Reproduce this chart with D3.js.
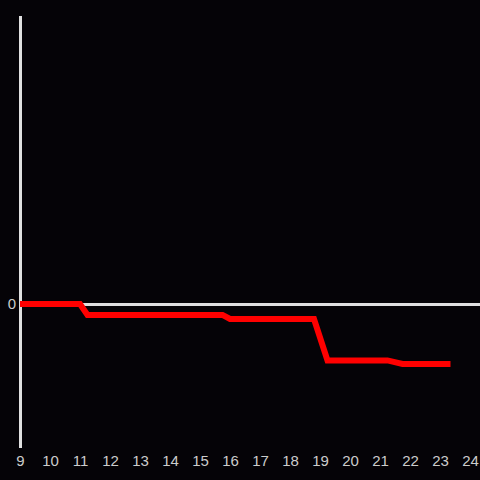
<!DOCTYPE html>
<html><head><meta charset="utf-8">
<script src="https://cdn.jsdelivr.net/npm/d3@7"></script>
<style>html,body{margin:0;padding:0;background:#050307;}svg{display:block;}</style>
</head><body>
<script>
const hours = [9, 11, 11.25, 15.75, 16, 18.8, 19.25, 21.25, 21.75, 23.35];
const values = [0, 0, -3.8, -3.8, -5.2, -5.2, -19.6, -19.6, -20.8, -20.8];
const xTicks = [9,10,11,12,13,14,15,16,17,18,19,20,21,22,23,24];
const yTicks = [0];

const W = 480, H = 480;
const svg = d3.select("body").append("svg").attr("width", W).attr("height", H)
  .style("background", "#050307");
const x = d3.scaleLinear().domain([9, 24]).range([20, 470]);
const y = d3.scaleLinear().domain([-50, 100]).range([448, 16]);

svg.append("line").attr("x1", 20.5).attr("x2", 20.5).attr("y1", 16).attr("y2", 448)
  .attr("stroke", "#e0e0e0").attr("stroke-width", 3);
svg.append("line").attr("x1", 20).attr("x2", 480).attr("y1", y(0) + 0.5).attr("y2", y(0) + 0.5)
  .attr("stroke", "#e0e0e0").attr("stroke-width", 3);

const xAxis = d3.axisBottom(x).tickValues(xTicks).tickSize(0).tickPadding(0).tickFormat(d3.format("d"));
const gx = svg.append("g").attr("transform", "translate(0,461)").call(xAxis);
gx.select(".domain").remove();
gx.selectAll("text").attr("fill", "#cccccc").attr("font-size", 15).attr("y", 0)
  .attr("font-family", "Liberation Sans, Arial, sans-serif").attr("dy", "0.35em");

const yAxis = d3.axisLeft(y).tickValues(yTicks).tickSize(0).tickPadding(4);
const gy = svg.append("g").attr("transform", "translate(20,0)").call(yAxis);
gy.select(".domain").remove();
gy.selectAll("text").attr("fill", "#cccccc").attr("font-size", 15)
  .attr("font-family", "Liberation Sans, Arial, sans-serif");

const line = d3.line().x((d, i) => x(hours[i])).y(d => y(d));
svg.append("path").datum(values).attr("d", line)
  .attr("fill", "none").attr("stroke", "#ff0000").attr("stroke-width", 6)
  .attr("stroke-linejoin", "miter");
</script>
</body></html>
